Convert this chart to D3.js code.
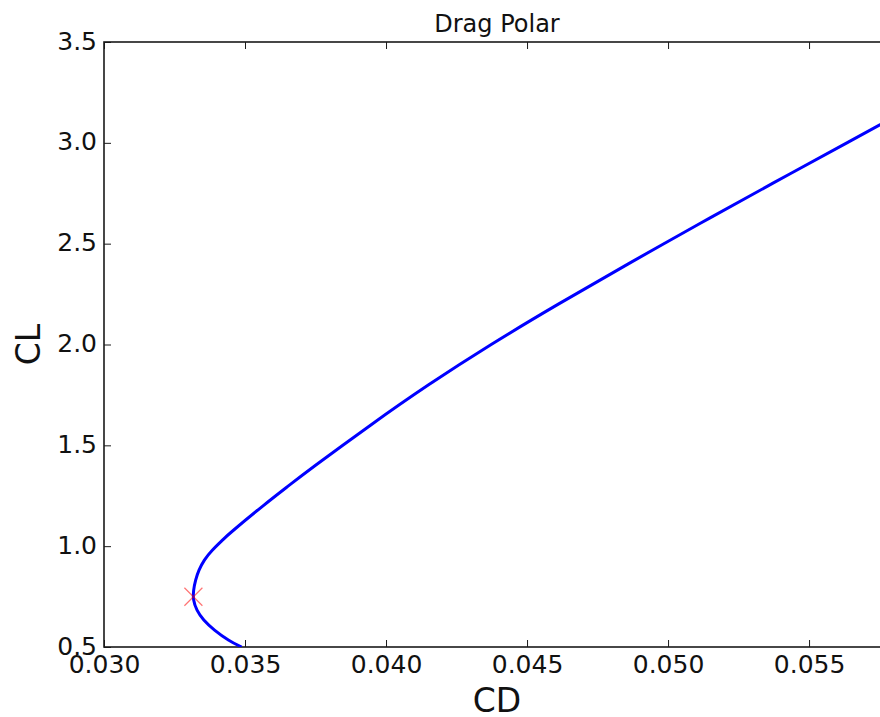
<!DOCTYPE html>
<html>
<head>
<meta charset="utf-8">
<script src="https://cdn.jsdelivr.net/npm/d3@7"></script>
<style>
  html, body { margin: 0; padding: 0; background: #fff; }
  svg { display: block; font-family: "DejaVu Sans", sans-serif; }
</style>
</head>
<body>
<svg id="chart" width="880" height="717"></svg>
<script>
// ---- data ----
const cdValues = [0.03488, 0.03441, 0.03392, 0.03354, 0.03330, 0.03318, 0.03318, 0.03325, 0.03337, 0.03356, 0.03384, 0.03420, 0.03459,
                  0.03564, 0.03655, 0.03749, 0.03945, 0.04151, 0.04373, 0.04611, 0.04859, 0.05113, 0.05372, 0.05634, 0.05792];
const clValues = [0.500, 0.535, 0.584, 0.634, 0.683, 0.733, 0.782, 0.832, 0.881, 0.931, 0.980, 1.030, 1.079,
                  1.200, 1.300, 1.400, 1.600, 1.800, 2.000, 2.200, 2.400, 2.600, 2.800, 3.000, 3.120];
const minPointCD = [0.03317];
const minPointCL = [0.749];
const xTicks = [0.030, 0.035, 0.040, 0.045, 0.050, 0.055];
const yTicks = [0.5, 1.0, 1.5, 2.0, 2.5, 3.0, 3.5];
const xDomain = [0.030, 0.05787];
const yDomain = [0.5, 3.5];
const titleText = "Drag Polar";
const xLabel = "CD";
const yLabel = "CL";

// ---- layout ----
const plotLeft = 104, plotRight = 890, plotTop = 42, plotBottom = 647;
const svg = d3.select("#chart");
const x = d3.scaleLinear().domain(xDomain).range([plotLeft, plotRight]);
const y = d3.scaleLinear().domain(yDomain).range([plotBottom, plotTop]);

svg.append("defs").append("clipPath").attr("id", "clip")
  .append("rect").attr("x", plotLeft).attr("y", plotTop).attr("width", plotRight - plotLeft).attr("height", plotBottom - plotTop);

const tickLen = 7;
const axisColor = "#1a1a1a";

// bottom axis (ticks inward)
const xb = svg.append("g").attr("transform", `translate(0,${plotBottom})`)
  .call(d3.axisBottom(x).tickValues(xTicks).tickFormat(d3.format(".3f")).tickSizeInner(-tickLen).tickSizeOuter(0).tickPadding(0));
xb.select(".domain").remove();
xb.selectAll(".tick line").attr("stroke", axisColor).attr("stroke-width", 1);
xb.selectAll(".tick text").attr("y", 26).attr("dy", null).attr("font-size", 25)
  .attr("fill", "#111").style("font-family", "DejaVu Sans");

// top axis ticks
const xt = svg.append("g").attr("transform", `translate(0,${plotTop})`)
  .call(d3.axisTop(x).tickValues(xTicks).tickFormat("").tickSizeInner(-tickLen).tickSizeOuter(0));
xt.select(".domain").remove();
xt.selectAll(".tick line").attr("stroke", axisColor).attr("stroke-width", 1);

// left axis
const yl = svg.append("g").attr("transform", `translate(${plotLeft},0)`)
  .call(d3.axisLeft(y).tickValues(yTicks).tickFormat(d3.format(".1f")).tickSizeInner(-tickLen).tickSizeOuter(0).tickPadding(0));
yl.select(".domain").remove();
yl.selectAll(".tick line").attr("stroke", axisColor).attr("stroke-width", 1);
yl.selectAll(".tick text").attr("x", -7).attr("dy", null).attr("y", 7).attr("font-size", 25)
  .attr("fill", "#111").attr("text-anchor", "end").style("font-family", "DejaVu Sans");

// right axis ticks
const yr = svg.append("g").attr("transform", `translate(${plotRight},0)`)
  .call(d3.axisRight(y).tickValues(yTicks).tickFormat("").tickSizeInner(-tickLen).tickSizeOuter(0));
yr.select(".domain").remove();
yr.selectAll(".tick line").attr("stroke", axisColor).attr("stroke-width", 1);

// frame
svg.append("rect").attr("x", plotLeft).attr("y", plotTop).attr("width", plotRight - plotLeft).attr("height", plotBottom - plotTop)
  .attr("fill", "none").attr("stroke", axisColor).attr("stroke-width", 1.6);

// curve
const pts = cdValues.map((cd, i) => [cd, clValues[i]]);
const line = d3.line().x(d => x(d[0])).y(d => y(d[1])).curve(d3.curveNatural);
svg.append("path").datum(pts).attr("clip-path", "url(#clip)")
  .attr("d", line).attr("fill", "none").attr("stroke", "#0000ff").attr("stroke-width", 3)
  .attr("stroke-linejoin", "round").attr("stroke-linecap", "butt");

// min-drag marker (x)
const mk = svg.append("g");
minPointCD.forEach((cd, i) => {
  const cx = x(cd), cy = y(minPointCL[i]), s = 9;
  mk.append("path").attr("d", `M${cx - s},${cy - s}L${cx + s},${cy + s}M${cx - s},${cy + s}L${cx + s},${cy - s}`)
    .attr("stroke", "#ff0000").attr("stroke-opacity", 0.55).attr("stroke-width", 1.2).attr("fill", "none");
});

// title and labels
svg.append("text").attr("x", (plotLeft + plotRight) / 2).attr("y", 32).attr("text-anchor", "middle")
  .attr("font-size", 24).attr("fill", "#111").text(titleText);
svg.append("text").attr("x", (plotLeft + plotRight) / 2).attr("y", 712).attr("text-anchor", "middle")
  .attr("font-size", 33).attr("fill", "#111").text(xLabel);
svg.append("text").attr("transform", `translate(40,${(plotTop + plotBottom) / 2}) rotate(-90)`).attr("text-anchor", "middle")
  .attr("font-size", 33).attr("fill", "#111").text(yLabel);
</script>
</body>
</html>
